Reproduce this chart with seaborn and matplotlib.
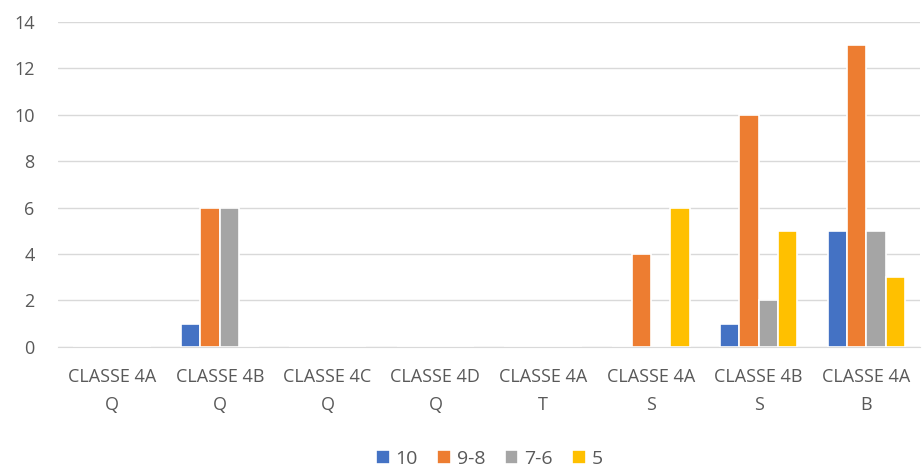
import numpy as np
import pandas as pd
import matplotlib
matplotlib.use("Agg")
import matplotlib.pyplot as plt
import seaborn as sns

# 数据
classes = ["CLASSE 4A\nQ", "CLASSE 4B\nQ", "CLASSE 4C\nQ", "CLASSE 4D\nQ",
           "CLASSE 4A\nT", "CLASSE 4A\nS", "CLASSE 4B\nS", "CLASSE 4A\nB"]
series_names = ["10", "9-8", "7-6", "5"]
v_10 = [0, 1, 0, 0, 0, 0, 1, 5]
v_98 = [0, 6, 0, 0, 0, 4, 10, 13]
v_76 = [0, 6, 0, 0, 0, 0, 2, 5]
v_5 = [0, 0, 0, 0, 0, 6, 5, 3]
colors = ["#4472C4", "#ED7D31", "#A5A5A5", "#FFC000"]

rows = []
for name, vals in zip(series_names, [v_10, v_98, v_76, v_5]):
    for c, v in zip(classes, vals):
        rows.append({"classe": c, "voto": name, "n": v})
df = pd.DataFrame(rows)

sns.set_style("white")
plt.rcParams['font.family'] = ['Open Sans', 'DejaVu Sans']

fig = plt.figure(figsize=(9.24, 4.70), dpi=100)
ax = fig.add_axes([0.063, 0.262, 0.933, 0.691])

sns.barplot(data=df, x="classe", y="n", hue="voto", order=classes,
            hue_order=series_names, palette=colors, width=0.72, saturation=1,
            edgecolor="white", linewidth=1.2, ax=ax, legend=True)

ax.set_ylim(0, 14)
ax.set_yticks(np.arange(0, 15, 2))
ax.set_xlim(-0.5, len(classes) - 0.5)
ax.yaxis.grid(True, color="#D9D9D9", linewidth=1)
ax.set_axisbelow(True)
for s in ["top", "right", "left"]:
    ax.spines[s].set_visible(False)
ax.spines["bottom"].set_color("#D9D9D9")
ax.tick_params(axis="both", length=0, colors="#595959", labelsize=13)
ax.tick_params(axis="x", pad=15)
ax.tick_params(axis="y", pad=17)
for lbl in ax.get_xticklabels():
    lbl.set_linespacing(1.75)
ax.set_xlabel("")
ax.set_ylabel("")

ax.legend(loc="center", bbox_to_anchor=(0.5, -0.345), ncol=4, frameon=False,
          fontsize=14, handlelength=0.7, handleheight=0.7, handletextpad=0.3,
          columnspacing=1.0, labelcolor="#595959")

fig.savefig("out.png", dpi=100)
